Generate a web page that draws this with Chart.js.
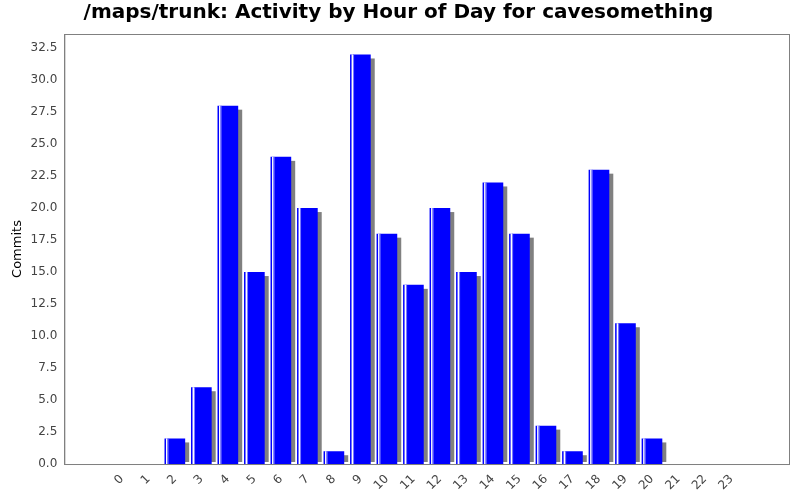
<!DOCTYPE html>
<html><head><meta charset="utf-8">
<script src="https://cdn.jsdelivr.net/npm/chart.js@4"></script>
<style>html,body{margin:0;background:#fff}#wrap{width:800px;height:500px}</style>
</head><body><div id="wrap"><canvas id="c"></canvas></div>
<script>
const hours = ["0","1","2","3","4","5","6","7","8","9","10","11","12","13","14","15","16","17","18","19","20","21","22","23"];
const commits = [0,0,2,6,28,15,24,20,1,32,18,14,20,15,22,18,3,1,23,11,2,0,0,0];
const yTicks = [0,2.5,5,7.5,10,12.5,15,17.5,20,22.5,25,27.5,30,32.5];

const barFx = {
  id: "barFx",
  beforeDatasetsDraw(chart){
    const ctx = chart.ctx, area = chart.chartArea;
    ctx.save();
    ctx.beginPath(); ctx.rect(area.left, area.top, area.width, area.bottom - area.top - 2); ctx.clip();
    ctx.fillStyle = "#808080";
    chart.getDatasetMeta(0).data.forEach((b,i)=>{
      if(!commits[i]) return;
      const w = b.width;
      ctx.fillRect(b.x - w/2 + 4, b.y + 4, w, b.base - b.y);
    });
    ctx.restore();
  },
  afterDatasetsDraw(chart){
    const ctx = chart.ctx;
    ctx.save();
    chart.getDatasetMeta(0).data.forEach((b,i)=>{
      if(!commits[i]) return;
      const l = b.x - b.width/2;
      ctx.fillStyle = "#ffffff";
      ctx.fillRect(l + 1.5, b.y, 1.5, b.base - b.y);
      ctx.fillStyle = "#8080ff";
      ctx.fillRect(l + 3, b.y, 1, b.base - b.y);
    });
    const a = chart.chartArea;
    ctx.strokeStyle = "#808080"; ctx.lineWidth = 1;
    ctx.strokeRect(a.left + 0.5, a.top + 0.5, a.width, a.bottom - a.top);
    ctx.restore();
  }
};

new Chart(document.getElementById("c"), {
  type: "bar",
  data: { datasets: [{ label: "Commits", data: commits.map((v,i)=>({x:i, y:v})),
    backgroundColor: "#0000ff", borderWidth: 0, categoryPercentage: 0.78, barPercentage: 1 }] },
  plugins: [barFx],
  options: {
    responsive: true, maintainAspectRatio: false, animation: false,
    layout: { padding: { top: 0, right: 11, left: 8, bottom: 4 } },
    plugins: {
      legend: { display: false },
      tooltip: { enabled: false },
      title: { display: true, text: "/maps/trunk: Activity by Hour of Day for cavesomething",
        font: { family: "DejaVu Sans", size: 20, weight: "bold" }, color: "#000", padding: { top: 1, bottom: 9 } }
    },
    scales: {
      x: {
        type: "linear", min: -1.6, max: 24.6,
        afterBuildTicks(s){ s.ticks = hours.map((h,i)=>({value:i})); },
        grid: { display: false, drawTicks: true, tickLength: 5, color: "#808080" },
        border: { display: true, color: "#808080" },
        ticks: { color: "#444", font: { family: "DejaVu Sans", size: 12 }, maxRotation: 45, minRotation: 45, padding: 3,
          autoSkip: false, callback: v => hours[v] }
      },
      y: {
        min: 0, max: 33.6,
        afterBuildTicks(s){ s.ticks = yTicks.map(v=>({value:v})); },
        grid: { display: false, drawTicks: true, tickLength: 4, color: "#808080" },
        border: { display: true, color: "#808080" },
        ticks: { color: "#444", font: { family: "DejaVu Sans", size: 12 }, callback: v => v.toFixed(1), padding: 3 },
        title: { display: true, text: "Commits", color: "#000", font: { family: "DejaVu Sans", size: 13 }, padding: 2 }
      }
    }
  }
});
</script></body></html>
